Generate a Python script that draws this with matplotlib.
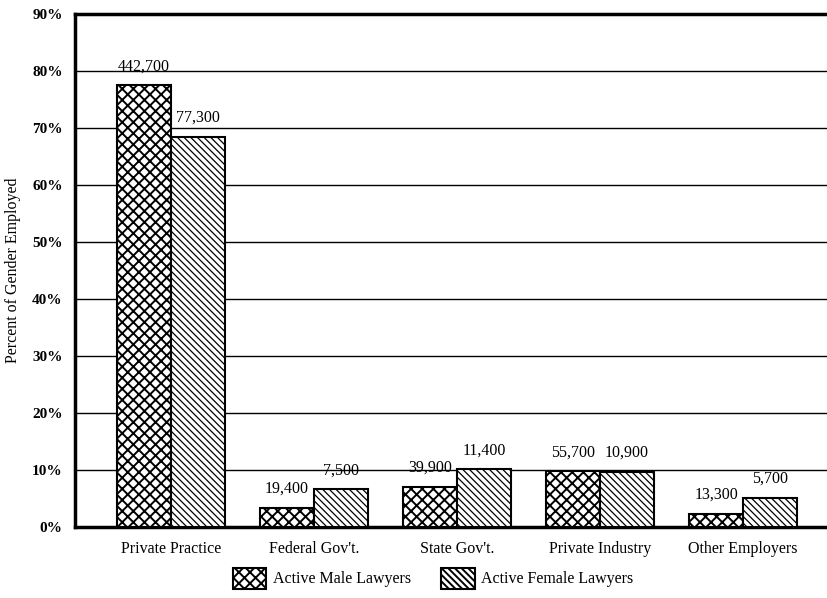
import matplotlib
matplotlib.use("Agg")
import matplotlib.pyplot as plt
import numpy as np

categories = ["Private Practice", "Federal Gov't.", "State Gov't.", "Private Industry", "Other Employers"]
male_pct = [77.5, 3.4, 7.0, 9.8, 2.3]
female_pct = [68.5, 6.6, 10.1, 9.7, 5.1]
male_counts = ["442,700", "19,400", "39,900", "55,700", "13,300"]
female_counts = ["77,300", "7,500", "11,400", "10,900", "5,700"]
yticks = [0, 10, 20, 30, 40, 50, 60, 70, 80, 90]
ytick_labels = ["0%", "10%", "20%", "30%", "40%", "50%", "60%", "70%", "80%", "90%"]

plt.rcParams['font.family'] = ['Liberation Serif', 'DejaVu Serif']
plt.rcParams['hatch.linewidth'] = 1.4

fig = plt.figure(figsize=(8.28, 5.98), dpi=100)
ax = fig.add_axes([0.0906, 0.1187, 0.9094, 0.8579])

x = np.arange(len(categories))
w = 0.378
mb = ax.bar(x - w/2, male_pct, w, facecolor='white', edgecolor='black', hatch='xxx',
            linewidth=1.5, zorder=3, label='Active Male Lawyers')
fb = ax.bar(x + w/2, female_pct, w, facecolor='white', edgecolor='black', hatch='\\' * 5,
            linewidth=1.5, zorder=3, label='Active Female Lawyers')
for p in fb:
    if hasattr(p, 'set_hatch_linewidth'):
        p.set_hatch_linewidth(0.9)

for xi, v, t in zip(x - w/2, male_pct, male_counts):
    ax.annotate(t, (xi, v), xytext=(0, 19), textcoords='offset pixels',
                ha='center', va='center', fontsize=11.5, zorder=4)
for xi, v, t in zip(x + w/2, female_pct, female_counts):
    ax.annotate(t, (xi, v), xytext=(0, 19), textcoords='offset pixels',
                ha='center', va='center', fontsize=11.5, zorder=4)

ax.set_xlim(-0.671, 4.594)
ax.set_ylim(0, 90)
ax.set_yticks(yticks)
ax.set_yticklabels(ytick_labels, fontsize=11, fontweight='bold')
ax.set_xticks(x)
ax.set_xticklabels(categories, fontsize=11.5)
ax.tick_params(axis='both', length=0)
ax.tick_params(axis='y', pad=9)
ax.tick_params(axis='x', pad=10)
ax.yaxis.grid(True, color='black', linewidth=1.0, zorder=0)
ax.set_axisbelow(True)
for s in ['left', 'bottom', 'top']:
    ax.spines[s].set_linewidth(2.5)
ax.spines['right'].set_visible(False)
ax.set_ylabel("Percent of Gender Employed", fontsize=11.5, labelpad=8)

leg = fig.legend(loc='center', bbox_to_anchor=(0.523, 0.033), ncol=2, frameon=False,
                 fontsize=11.5, handlelength=2.1, handleheight=1.6, handletextpad=0.4,
                 columnspacing=1.9)

fig.savefig("out.png", dpi=100)
